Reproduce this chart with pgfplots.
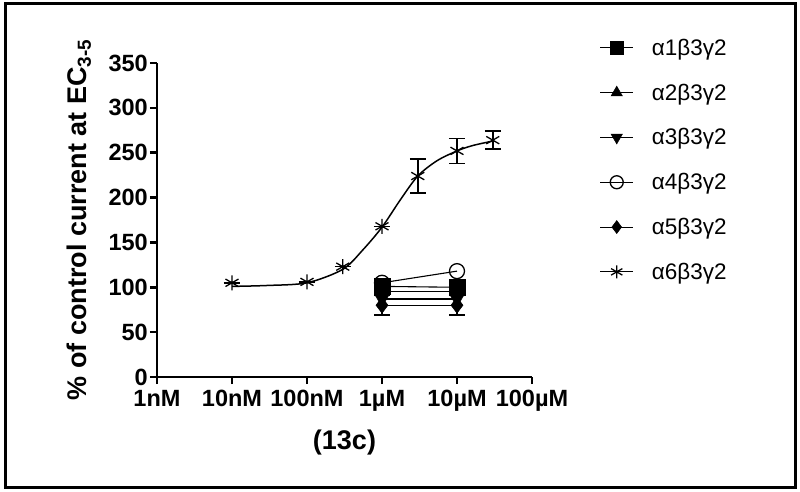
\documentclass[border=0pt]{standalone}
\usepackage{pgfplots}
\pgfplotsset{compat=1.18}
\usepackage{fontspec}
\setmainfont{Liberation Sans}
\begin{document}
\begin{tikzpicture}[x=1pt,y=1pt]
\useasboundingbox (0,0) rectangle (800,491);
\draw[line width=3pt] (5,4) rectangle (795,487);
\begin{axis}[
  at={(157pt,114pt)}, anchor=south west,
  scale only axis, width=375pt, height=314pt,
  xmode=log, log basis x=10,
  xmin=1e-9, xmax=1e-4, ymin=0, ymax=350,
  axis lines*=left,
  axis line style={line width=2.5pt, -},
  xtick={1e-9,1e-8,1e-7,1e-6,1e-5,1e-4},
  xticklabels={1nM,10nM,100nM,1µM,10µM,100µM},
  xminorticks=false,
  ytick={0,50,100,150,200,250,300,350},
  tick style={line width=2.5pt, black},
  tick align=outside, major tick length=7pt,
  tick label style={font=\fontsize{23.5}{23.5}\selectfont\bfseries},
  xticklabel style={inner ysep=0pt, yshift=-6pt},
  yticklabel style={inner xsep=2pt, inner ysep=0pt},
  /pgf/number format/assume math mode=true,
  xlabel={(13c)},
  ylabel={\% of control current at EC\textsubscript{3-5}},
  label style={font=\fontsize{27}{27}\selectfont\bfseries},
  xlabel style={at={(axis description cs:0.5,0)}, anchor=center, yshift=-66pt},
  ylabel style={at={(axis description cs:-0.208,0.5)}, anchor=center},
  clip=false,
  legend style={draw=none, font=\fontsize{22.5}{26}\selectfont,
    row sep=23pt, at={(axis description cs:1.172,1.09)}, anchor=north west,
    /tikz/every odd column/.style={column sep=16pt}},
  legend cell align=left,
  legend image code/.code={\draw[mark repeat=2,mark phase=2,mark size=6.5pt] plot coordinates {(0pt,0pt)(16.5pt,0pt)(33pt,0pt)};},
  every axis plot/.append style={black, line width=1.1pt},
  error bars/error bar style={line width=1.5pt},
  error bars/error mark options={rotate=90, mark size=8pt, line width=1.5pt},
]
% alpha4 drawn first so squares lie above it
\addplot[mark=o, mark size=7.5pt, mark options={fill=white, line width=1.3pt}, forget plot]
  coordinates {(1e-6,105) (1e-5,118)};
\addplot[mark=square*, mark size=8pt, mark options={line width=0.5pt}]
  coordinates {(1e-6,101) (1e-5,100)};
\addlegendentry{α1β3γ2}
\addplot[mark=triangle*, mark size=8pt, mark options={line width=0.5pt}]
  coordinates {(1e-6,95) (1e-5,95)};
\addlegendentry{α2β3γ2}
\addplot[mark=triangle*, mark size=8pt, mark options={rotate=180, line width=0.5pt}]
  coordinates {(1e-6,87) (1e-5,87)};
\addlegendentry{α3β3γ2}
\addlegendimage{black, line width=1.1pt, mark=o, mark size=7.5pt, mark options={fill=white, line width=1.3pt}}
\addlegendentry{α4β3γ2}
\addplot[mark=diamond*, mark size=8pt, mark options={line width=0.5pt},
  error bars/.cd, y dir=both, y explicit]
  coordinates {(1e-6,80) +- (0,11) (1e-5,80) +- (0,11)};
\addlegendentry{α5β3γ2}
\addlegendimage{black, line width=1.1pt, mark=asterisk, mark size=7.5pt, mark options={line width=1.3pt}}
\addlegendentry{α6β3γ2}
\addplot[only marks, mark=asterisk, mark size=7.5pt, mark options={line width=1.3pt}, forget plot,
  error bars/.cd, y dir=both, y explicit]
  coordinates {(1e-8,105) +- (0,0) (1e-7,106) +- (0,0) (3e-7,123) +- (0,0)
    (1e-6,168) +- (0,0) (3e-6,224) +- (0,19) (1e-5,252) +- (0,14) (3e-5,264) +- (0,10)};
\addplot[no marks, smooth, line width=1.5pt, forget plot]
  coordinates {(1e-8,101) (2.9e-8,102) (1e-7,105) (3e-7,120) (5.6e-7,142) (1e-6,167)
    (1.74e-6,197) (3e-6,224) (5.4e-6,241) (1e-5,252) (1.62e-5,258) (3e-5,263)};
\end{axis}
\end{tikzpicture}
\end{document}
